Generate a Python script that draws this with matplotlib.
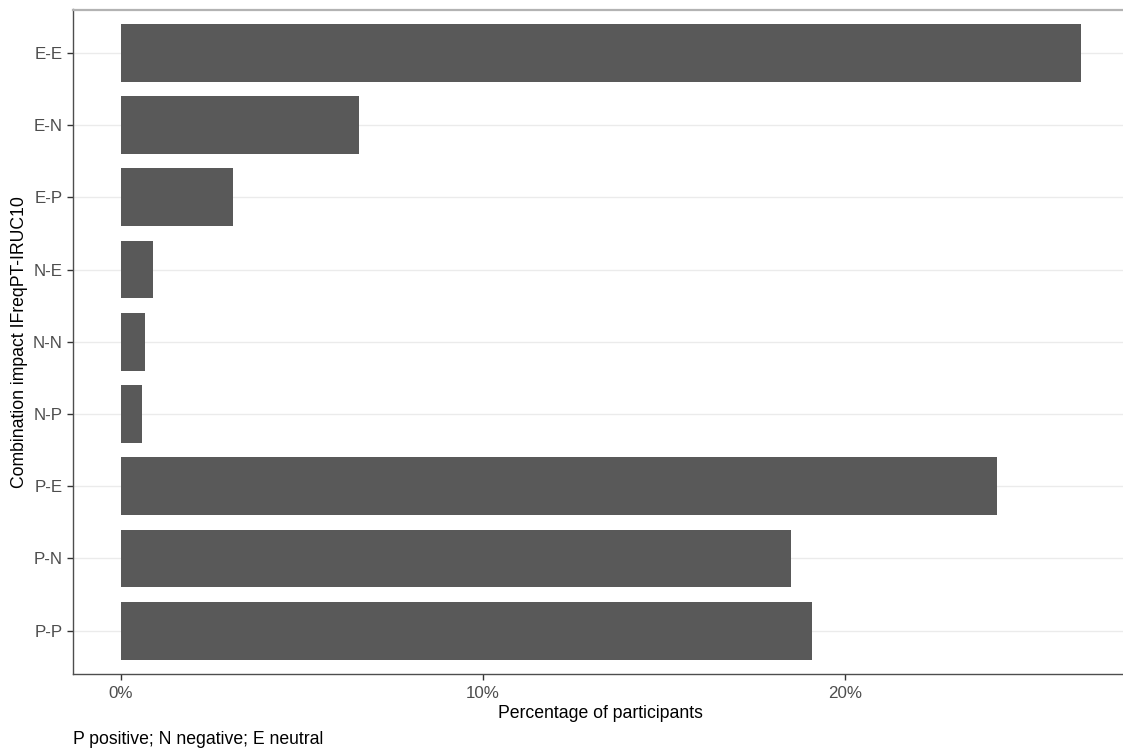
import matplotlib
matplotlib.use("Agg")
import matplotlib.pyplot as plt
import numpy as np
from matplotlib.ticker import FuncFormatter

plt.rcParams["font.family"] = ["Liberation Sans", "DejaVu Sans"]

combos = ["E-E", "E-N", "E-P", "N-E", "N-N", "N-P", "P-E", "P-N", "P-P"]
pct = [26.52, 6.59, 3.10, 0.88, 0.68, 0.58, 24.20, 18.50, 19.08]
x_ticks = [0, 10, 20]

W, H = 1123, 749
fig = plt.figure(figsize=(W / 100, H / 100), dpi=100)
# panel placed in pixel coords
left, right, top, bottom = 72.7, 1129, 9.5, 674
ax = fig.add_axes([left / W, 1 - bottom / H, (right - left) / W, (bottom - top) / H])

ypos = np.arange(len(combos))
ax.barh(ypos, pct, height=0.8, color="#595959", zorder=2)

xmax = max(pct)
ax.set_xlim(-0.05 * xmax, 1.05 * xmax)
ax.set_ylim(len(combos) - 0.4, -0.6)

ax.set_yticks(ypos)
ax.set_yticklabels(combos)
ax.set_xticks(x_ticks)
ax.xaxis.set_major_formatter(FuncFormatter(lambda v, _: f"{v:.0f}%"))

ax.grid(axis="y", color="#EBEBEB", lw=1.0, zorder=0)
ax.grid(axis="x", visible=False)
ax.set_axisbelow(True)

for s in ["left", "bottom"]:
    ax.spines[s].set_color("#4D4D4D")
    ax.spines[s].set_linewidth(1.0)
ax.spines["top"].set_color("#B3B3B3")
ax.spines["top"].set_linewidth(1.6)
ax.spines["right"].set_visible(False)

ax.tick_params(axis="both", length=4, width=1.0, color="#333333",
               labelcolor="#4D4D4D", labelsize=12.2)
ax.tick_params(axis="y", pad=3)
ax.tick_params(axis="x", pad=5)

ax.set_xlabel("Percentage of participants", fontsize=12.7, color="black")
ax.xaxis.label.set_verticalalignment("baseline")
ax.xaxis.set_label_coords(0.5, -(718.3 - bottom) / (bottom - top))

ax.set_ylabel("Combination impact IFreqPT-IRUC10", fontsize=12.7, color="black")
ax.yaxis.label.set_verticalalignment("center")
ax.yaxis.set_label_coords((19.5 - left) / (right - left), 0.5)

fig.text(left / W, 1 - 744.5 / H, "P positive; N negative; E neutral",
         fontsize=12.7, ha="left", va="baseline", color="black")

fig.savefig("out.png", dpi=100)
